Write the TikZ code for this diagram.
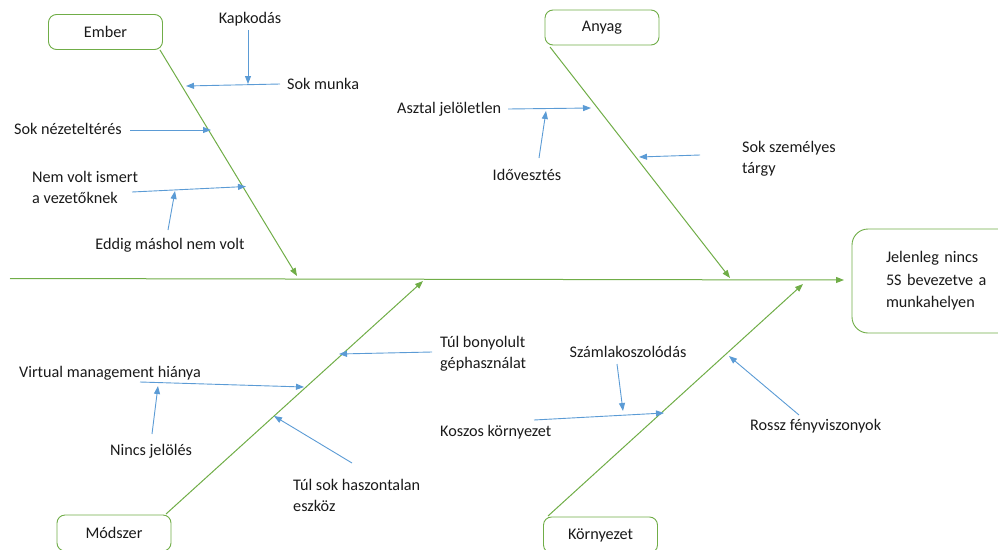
\documentclass[tikz,border=0pt]{standalone}
\usepackage{fontspec}
\setmainfont{Carlito}
\usetikzlibrary{arrows.meta}
\definecolor{bgreen}{HTML}{70AD47}
\definecolor{bblue}{HTML}{5B9BD5}
\definecolor{txt}{HTML}{1A1A1A}
\begin{document}
\begin{tikzpicture}[x=1pt,y=-1pt,
  every node/.style={font=\fontsize{16.2}{21}\selectfont, text=txt},
  catbox/.style={draw=bgreen, line width=0.9pt, rounded corners=8pt, fill=white, minimum width=114pt, minimum height=35pt, inner sep=0pt},
  bone/.style={draw=bgreen, line width=1pt, -{Triangle[length=8pt,width=6pt]}},
  cause/.style={draw=bblue, line width=0.9pt, -{Triangle[length=8pt,width=6pt]}},
  lbl/.style={inner sep=0pt, align=left}]
\useasboundingbox (0,0) rectangle (998,549);
\clip (0,0) rectangle (998,549);
% category boxes
\node[catbox] (ember) at (105.5,32) {Ember};
\node[catbox] (anyag) at (602,27.5) {Anyag};
\node[catbox, minimum height=36pt] (modszer) at (114,533) {Módszer};
\node[catbox, minimum height=36pt] (kornyezet) at (600.5,535) {Környezet};
\node[catbox, rounded corners=16pt, minimum width=180pt, minimum height=104pt, align=left, text width=112pt, inner sep=0pt, font=\fontsize{16.2}{22.5}\selectfont] (effect) at (942,281) {Jelenleg nincs\\5S bevezetve a\\munkahelyen};
% spine and bones
\coordinate (spineL) at (10,278.5);
\coordinate (spineR) at (844,280);
\draw[bone] (spineL) -- (spineR);
\coordinate (eS) at (160,50);  \coordinate (eE) at (297,276);
\coordinate (aS) at (550,47);  \coordinate (aE) at (730,278);
\coordinate (mS) at (166,514); \coordinate (mE) at (423,281);
\coordinate (kS) at (548,516); \coordinate (kE) at (803,284);
\draw[bone] (eS) -- (eE);
\draw[bone] (aS) -- (aE);
\draw[bone] (mS) -- (mE);
\draw[bone] (kS) -- (kE);
% Ember causes
\node[lbl] (kap) at (250,19) {Kapkodás};
\node[lbl, anchor=west] (sokm) at (287,84) {Sok munka};
\node[lbl, anchor=west] (nez) at (14,129) {Sok nézeteltérés};
\node[lbl, anchor=west] (nemv) at (32,187) {Nem volt ismert\\a vezetőknek};
\node[lbl] (eddig) at (170,245) {Eddig máshol nem volt};
\coordinate (kapA) at (248,30);  \coordinate (kapB) at (248,84);
\coordinate (sokmA) at (280,84); \coordinate (sokmB) at (186,86);
\coordinate (nezA) at (130,130); \coordinate (nezB) at (211,130);
\coordinate (nemvA) at (132,192); \coordinate (nemvB) at (246,186.5);
\coordinate (eddA) at (168,230); \coordinate (eddB) at (175,191);
\draw[cause] (kapA) -- (kapB);
\draw[cause] (sokmA) -- (sokmB);
\draw[cause] (nezA) -- (nezB);
\draw[cause] (nemvA) -- (nemvB);
\draw[cause] (eddA) -- (eddB);
% Anyag causes
\node[lbl, anchor=west] (asz) at (397,109) {Asztal jelöletlen};
\node[lbl] (ido) at (527,175) {Idővesztés};
\node[lbl, anchor=west] (szem) at (742,159) {Sok személyes\\tárgy};
\coordinate (aszA) at (508,109); \coordinate (aszB) at (591,108);
\coordinate (idoA) at (539,158); \coordinate (idoB) at (546,111);
\coordinate (szemA) at (700,155); \coordinate (szemB) at (639,157);
\draw[cause] (aszA) -- (aszB);
\draw[cause] (idoA) -- (idoB);
\draw[cause] (szemA) -- (szemB);
% Modszer causes
\node[lbl, anchor=west] (tulb) at (440,353.5) {Túl bonyolult\\géphasználat};
\node[lbl, anchor=west] (virt) at (19,373) {Virtual management hiánya};
\node[lbl] (ninc) at (151,451) {Nincs jelölés};
\node[lbl, anchor=west] (tuls) at (293,495.5) {Túl sok haszontalan\\eszköz};
\coordinate (tulbA) at (432,352); \coordinate (tulbB) at (339,354);
\coordinate (virtA) at (140,382); \coordinate (virtB) at (304,387);
\coordinate (nincA) at (152,434); \coordinate (nincB) at (158,386);
\coordinate (tulsA) at (352,463); \coordinate (tulsB) at (274,416);
\draw[cause] (tulbA) -- (tulbB);
\draw[cause] (virtA) -- (virtB);
\draw[cause] (nincA) -- (nincB);
\draw[cause] (tulsA) -- (tulsB);
% Kornyezet causes
\node[lbl] (szam) at (628,352) {Számlakoszolódás};
\node[lbl, anchor=west] (kosz) at (440,432) {Koszos környezet};
\node[lbl, anchor=west] (rossz) at (750,426) {Rossz fényviszonyok};
\coordinate (szamA) at (617,364); \coordinate (szamB) at (623,411);
\coordinate (koszA) at (534,420); \coordinate (koszB) at (664,413);
\coordinate (rosszA) at (799,415); \coordinate (rosszB) at (729,356);
\draw[cause] (szamA) -- (szamB);
\draw[cause] (koszA) -- (koszB);
\draw[cause] (rosszA) -- (rosszB);
\end{tikzpicture}
\end{document}
